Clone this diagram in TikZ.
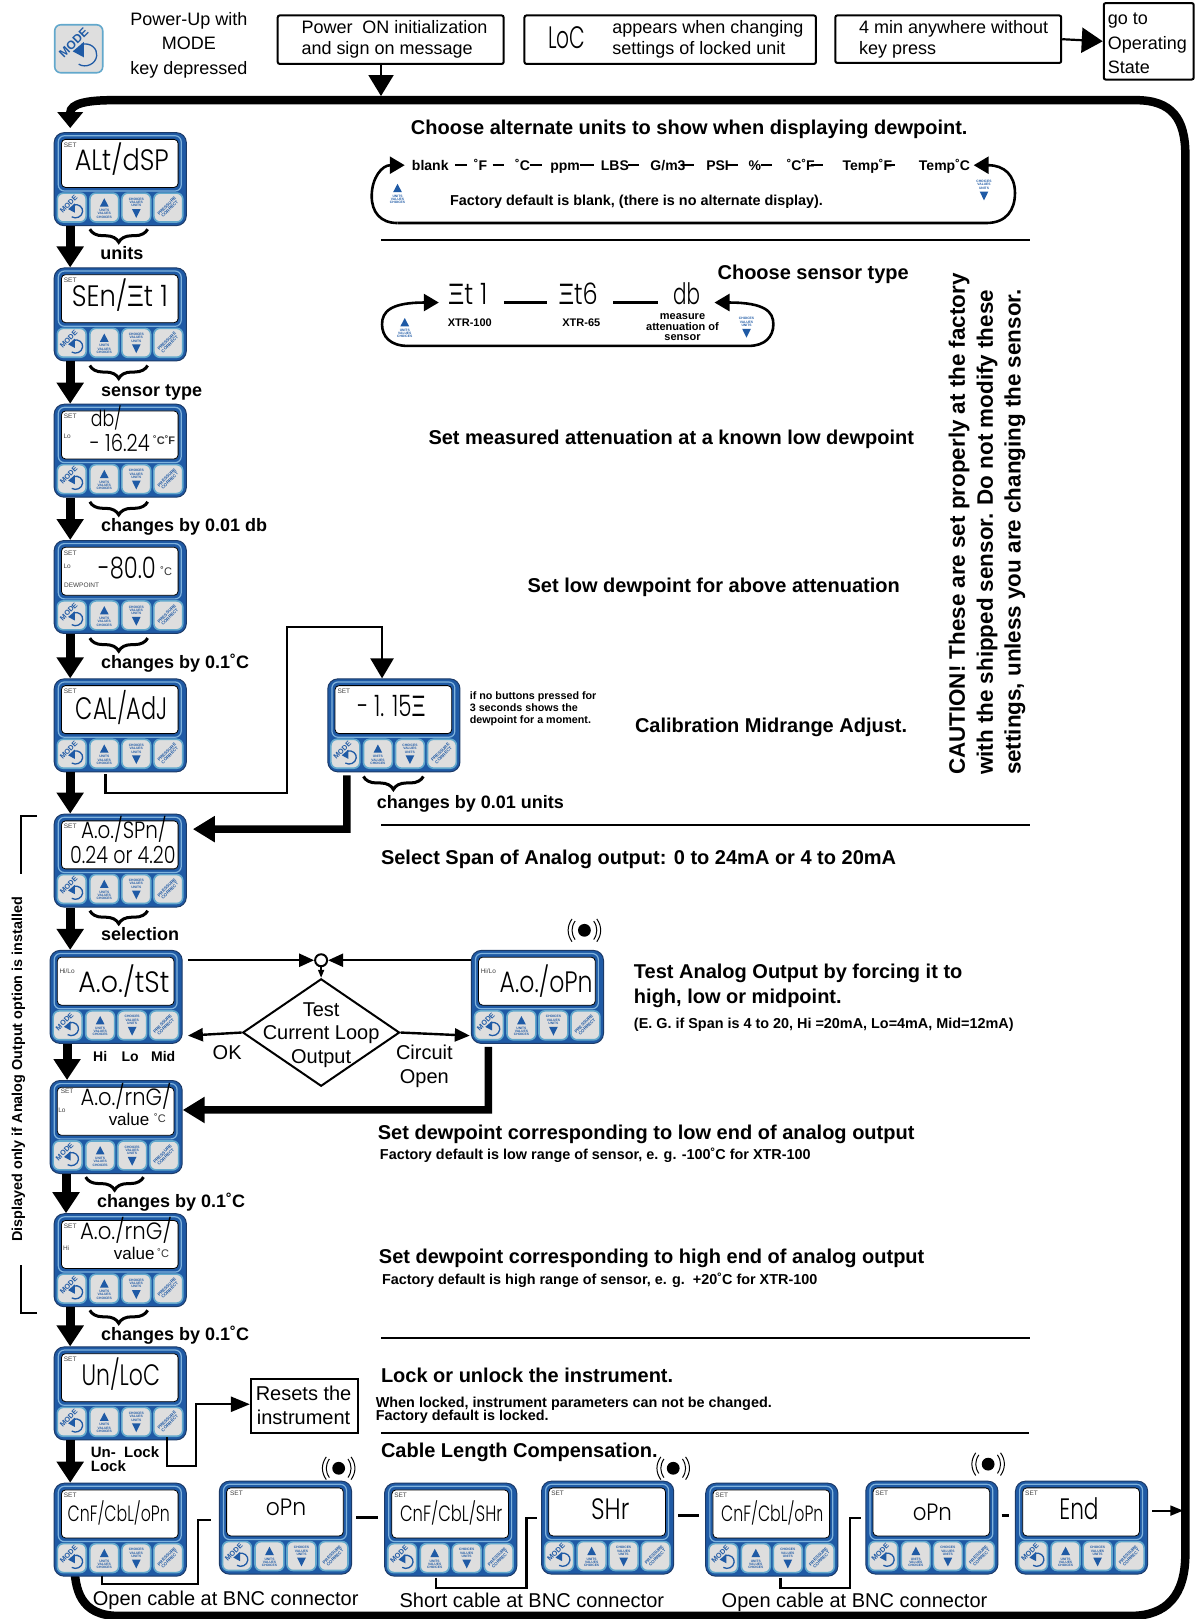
\documentclass[tikz,border=0pt]{standalone}
\usepackage{fontspec}
\usepackage{graphicx}
\setmainfont{Liberation Sans}
\newfontfamily\lcdf{Poppins Light}
\newfontfamily\lcdg{Liberation Sans}
\usetikzlibrary{arrows.meta,decorations.pathreplacing,calc,shapes.geometric}
\definecolor{pblue}{HTML}{1F5AA5}
\definecolor{pdark}{HTML}{1B3A68}
\definecolor{bfill}{HTML}{DEDEDE}
\definecolor{bring}{HTML}{62A8CC}
\definecolor{lring}{HTML}{7FB2DC}
\newcount\tn
\newcommand\fs[1]{\fontsize{#1}{#1}\selectfont}
\newcommand\T[4][]{\global\advance\tn by 1\relax\node[txt,#1] (t\the\tn) at (#2,#3+4.5) {#4};}
\newcommand\xseg{{\lcdg Ξ}}
\newcommand\lcd[5]{\pgfmathsetlengthmacro\lw{#1*1.0328}\pgfmathsetlengthmacro\lh{#2*1.0328}%
 \global\advance\tn by 1\relax
 \node[inner sep=0,black] (t\the\tn) at (#3,#4) {\resizebox{\lw}{\lh}{\lcdf\smash{#5}\rule{0pt}{.7em}}};}
\tikzset{
 txt/.style={inner sep=0,outer sep=0,text height=.72em,text depth=.2em},
 tt/.style={font=\bfseries\fs{20},anchor=west},
 ts/.style={font=\bfseries\fs{14.4},anchor=west},
 tl/.style={font=\bfseries\fs{18},anchor=west},
 tp/.style={font=\fs{18},anchor=center},
 td/.style={font=\fs{20},anchor=center},
 tb/.style={font=\fs{20},anchor=west},
 opt/.style={font=\bfseries\fs{14},anchor=west},
 panelbox/.style={draw=pdark,fill=pblue,line width=1pt,rounded corners=10pt,minimum width=132.2pt,minimum height=93pt,inner sep=0,anchor=north west},
 lring/.style={draw=lring,line width=1.2pt,rounded corners=6pt},
 lbox/.style={draw=black,fill=white,line width=.8pt,rounded corners=4pt},
 btn/.style={draw=bring,fill=bfill,line width=1.6pt,rounded corners=6pt},
 bluetxt/.style={inner sep=0,text=pblue,font=\bfseries\fs{3.6},align=center},
 bigarrow/.style={line width=9pt,-{Triangle[length=21pt,width=26pt]}},
 midarrow/.style={line width=7.5pt,-{Triangle[length=22pt,width=25pt]}},
 smallarrow/.style={line width=2.4pt,-{Triangle[length=15pt,width=13pt]}},
 plain/.style={line width=2.4pt},
 msgbox/.style={draw=black,line width=2pt,rounded corners=2pt,anchor=north west,inner sep=0},
 bracepath/.style={line width=3pt,decorate,decoration={brace,mirror,amplitude=13pt,aspect=.5}},
 rule/.style={line width=2pt},
 setl/.style={font=\fs{6.5},text=black!75,anchor=center,yshift=4.65pt},
 dsh/.style={line width=2pt},
}
% one MODE key, origin top left, 28 wide and high
\newcommand\modekey{%
 \draw[btn] (0,0) rectangle (28,28);
 \global\advance\tn by 1\relax
 \node[inner sep=0,text=pblue,font=\bfseries\fs{7.2},rotate=45] (t\the\tn) at (11,10.5) {MODE};
 \draw[pblue,line width=1.3pt] (15.5,11.5) .. controls (21,10) and (25,14) .. (24.5,18) .. controls (24,23) and (18,25.5) .. (14,23);
 \fill[pblue] (17,10) -- (17,19) -- (10.5,15.5) -- cycle;
}
\newcommand\upmark[1]{%
 \fill[pblue] (#1-4.2,13) -- (#1+4.2,13) -- (#1,5) -- cycle;
 \global\advance\tn by 1\relax
 \node[bluetxt,scale=.92] (t\the\tn) at (#1,20) {UNITS\\VALUES\\CHOICES};}
\newcommand\downmark[1]{%
 \global\advance\tn by 1\relax
 \node[bluetxt,scale=.92] (t\the\tn) at (#1,9) {CHOICES\\VALUES\\UNITS};
 \fill[pblue] (#1-4.2,15.5) -- (#1+4.2,15.5) -- (#1,24) -- cycle;}
\newcommand\panel[3]{%
 \node[panelbox] (#1) at (#2,#3) {};
 \begin{scope}[shift={(#2,#3)}]
  \draw[lring] (4.5,3.5) rectangle (123.5,57);
  \draw[lbox] (7.5,7) rectangle (120.5,53.5);
  \begin{scope}[shift={(3.5,59)}]\modekey\end{scope}
  \begin{scope}[shift={(35,59)}]\draw[btn] (0,0) rectangle (28,28);\upmark{14}\end{scope}
  \begin{scope}[shift={(66,59)}]\draw[btn] (0,0) rectangle (28,28);\downmark{14}\end{scope}
  \begin{scope}[shift={(97,59)}]\draw[btn] (0,0) rectangle (28,28);
   \global\advance\tn by 1\relax
   \node[bluetxt,rotate=45,font=\bfseries\fs{4.4}] (t\the\tn) at (14,14) {PRESSURE\\CORRECT};\end{scope}
 \end{scope}}
\newcommand\beep[2]{%
 \fill (#1,#2) circle (6.2);
 \draw[line width=1pt] (#1-9,#2-9) .. controls (#1-13,#2-3) and (#1-13,#2+3) .. (#1-9,#2+9);
 \draw[line width=1pt] (#1-12,#2-11) .. controls (#1-17,#2-4) and (#1-17,#2+4) .. (#1-12,#2+11);
 \draw[line width=1pt] (#1+9,#2-9) .. controls (#1+13,#2-3) and (#1+13,#2+3) .. (#1+9,#2+9);
 \draw[line width=1pt] (#1+12,#2-11) .. controls (#1+17,#2-4) and (#1+17,#2+4) .. (#1+12,#2+11);}
\begin{document}
\begin{tikzpicture}[x=1.0328pt,y=-1.0328pt]
\useasboundingbox (0,0) rectangle (1158,1568);
\fill[white] (0,0) rectangle (1158,1568);

% --- top row
\begin{scope}[shift={(53,24)},scale=1.66,transform shape]\modekey\end{scope}
\T[tp]{183}{18}{Power-Up with}
\T[tp]{183}{41}{MODE}
\T[tp]{183}{65}{key depressed}
\node[msgbox,minimum width=226pt,minimum height=48.5pt] (b1) at (268,14) {};
\T[tp,anchor=west]{292}{25}{Power\ \ ON initialization}
\T[tp,anchor=west]{292}{46}{and sign on message}
\node[msgbox,minimum width=291.5pt,minimum height=48.5pt] (b2) at (507,14) {};
\lcd{36}{21}{549}{36}{LoC}
\T[tp,anchor=west]{593}{25}{appears when changing}
\T[tp,anchor=west]{593}{46}{settings of locked unit}
\node[msgbox,minimum width=226pt,minimum height=47.5pt] (b3) at (808,14) {};
\T[tp,anchor=west]{832}{25}{4 min anywhere without}
\T[tp,anchor=west]{832}{46}{key press}
\node[msgbox,minimum width=90pt,minimum height=76.5pt] (b4) at (1068,2) {};
\T[tp,anchor=west]{1073}{17}{go to}
\T[tp,anchor=west]{1073}{41}{Operating}
\T[tp,anchor=west]{1073}{64}{State}
\draw[line width=2.2pt,-{Triangle[length=21pt,width=25pt]}] (b3.east) -- (b4.west);
\coordinate (topin) at (369,93);
\draw[line width=2pt,-{Triangle[length=21pt,width=25pt]}] (b1.south -| topin) -- (topin);

% --- big return loop
\coordinate (loopstart) at (72,1512);
\coordinate (loopend) at (68,124);
\draw[line width=8.5pt,-{Triangle[length=16pt,width=25pt]}] (loopstart) .. controls (72,1540) and (78,1565) .. (115,1565) -- (1095,1565) .. controls (1130,1565) and (1148,1545) .. (1148,1505) -- (1148,150) .. controls (1148,115) and (1135,97) .. (1100,97) -- (110,97) .. controls (85,97) and (68,100) .. (loopend);

% --- panels
\panel{p1}{52}{128}
\panel{p2}{52}{259}
\panel{p3}{52}{391}
\panel{p4}{52}{523}
\panel{p5}{52}{657}
\panel{p6}{317}{657}
\panel{p7}{52}{788}
\panel{p8}{48}{920}
\panel{p9}{456}{920}
\panel{p10}{48}{1046}
\panel{p11}{52}{1175}
\panel{p12}{52}{1304}
\panel{p13}{52}{1436}
\panel{p14}{212}{1434}
\panel{p15}{372}{1436}
\panel{p16}{524}{1434}
\panel{p17}{683}{1436}
\panel{p18}{838}{1434}
\panel{p19}{983}{1434}

% --- panel texts
\T[setl]{68}{140}{SET}\lcd{91}{20}{118}{155}{ALt/dSP}
\T[setl]{68}{271}{SET}\lcd{93}{20}{116}{287}{SEn/\xseg t 1}
\T[setl]{68}{403}{SET}\lcd{30}{15}{103}{406}{db/}\lcd{58}{16}{116}{429}{- 16.24}
\T[setl,font=\bfseries\fs{11},text=black!80]{159}{428}{˚C˚F}\T[setl]{65}{422}{Lo}
\T[setl]{68}{535}{SET}\lcd{56}{20}{123}{550}{-80.0}\T[setl,font=\fs{11},text=black!80]{161}{555}{˚C}\T[setl]{65}{548}{Lo}\T[setl]{79}{566}{DEWPOINT}
\T[setl]{68}{669}{SET}\lcd{89}{21}{118}{686}{CAL/AdJ}
\T[setl]{333}{669}{SET}\lcd{66}{20}{379}{684}{- 1. 15\xseg}
\T[setl]{68}{800}{SET}\lcd{83}{16}{120}{804}{A.o./SPn/}\lcd{102}{16}{119}{828}{0.24 or 4.20}
\T[setl]{65}{940}{Hi/Lo}\lcd{88}{20}{120}{951}{A.o./tSt}
\T[setl]{473}{940}{Hi/Lo}\lcd{90}{20}{529}{951}{A.o./oPn}
\T[setl]{65}{1057}{SET}\T[setl]{60}{1075}{Lo}\lcd{88}{16}{122}{1063}{A.o./rnG/}
\T[font=\fs{17}]{125}{1083}{value}\T[setl,font=\fs{11},text=black!80]{155}{1085}{˚C}
\T[setl]{68}{1187}{SET}\T[setl]{64}{1209}{Hi}\lcd{89}{16}{122}{1192}{A.o./rnG/}
\T[font=\fs{17}]{130}{1213}{value}\T[setl,font=\fs{11},text=black!80]{158}{1215}{˚C}
\T[setl]{68}{1316}{SET}\lcd{76}{20}{117}{1332}{Un/LoC}
\T[setl]{68}{1448}{SET}\lcd{99}{15}{115}{1466}{CnF/CbL/oPn}
\T[setl]{229}{1446}{SET}\lcd{39}{16}{277}{1460}{oPn}
\T[setl]{388}{1448}{SET}\lcd{99}{15}{437}{1466}{CnF/CbL/SHr}
\T[setl]{540}{1446}{SET}\lcd{37}{20}{591}{1462}{SHr}
\T[setl]{699}{1448}{SET}\lcd{99}{15}{748}{1466}{CnF/CbL/oPn}
\T[setl]{854}{1446}{SET}\lcd{38}{16}{903}{1465}{oPn}
\T[setl]{999}{1446}{SET}\lcd{38}{20}{1045}{1462}{End}

% --- vertical flow arrows
\draw[bigarrow] ([xshift=16.5pt]p1.south west) -- ([xshift=16.5pt]p2.north west);
\draw[bigarrow] ([xshift=16.5pt]p2.south west) -- ([xshift=16.5pt]p3.north west);
\draw[bigarrow] ([xshift=16.5pt]p3.south west) -- ([xshift=16.5pt]p4.north west);
\draw[bigarrow] ([xshift=16.5pt]p4.south west) -- ([xshift=16.5pt]p5.north west);
\draw[bigarrow] ([xshift=16.5pt]p5.south west) -- ([xshift=16.5pt]p7.north west);
\draw[bigarrow] ([xshift=16.5pt]p7.south west) coordinate (c78) -- (c78 |- p8.north);
\draw[bigarrow] ([xshift=17.5pt]p8.south west) -- ([xshift=17.5pt]p10.north west);
\draw[bigarrow] ([xshift=16.5pt]p10.south west) coordinate (c1011) -- (c1011 |- p11.north);
\draw[bigarrow] ([xshift=16.5pt]p11.south west) -- ([xshift=16.5pt]p12.north west);
\draw[bigarrow] ([xshift=16.5pt]p12.south west) -- ([xshift=16.5pt]p13.north west);

% --- braces
\draw[bracepath] (87,222) -- (143,222);
\T[tl,anchor=center]{118}{244}{units}
\draw[bracepath] (87,354) -- (143,354);
\T[tl]{98}{377}{sensor type}
\draw[bracepath] (87,486) -- (143,486);
\T[tl]{98}{508}{changes by 0.01 db}
\draw[bracepath] (87,618) -- (143,618);
\T[tl]{98}{640}{changes by 0.1˚C}
\draw[bracepath] (352,752) -- (410,752);
\T[tl]{365}{776}{changes by 0.01 units}
\draw[bracepath] (87,882) -- (143,882);
\T[tl]{98}{904}{selection}
\draw[bracepath] (83,1140) -- (139,1140);
\T[tl]{94}{1162}{changes by 0.1˚C}
\draw[bracepath] (87,1269) -- (143,1269);
\T[tl]{98}{1291}{changes by 0.1˚C}

% --- midrange branch
\coordinate (mid0) at (102,750);
\coordinate (mid1) at (102,768);
\coordinate (mid2) at (278,768);
\coordinate (mid3) at (278,607);
\coordinate (mid4) at (370,607);
\draw[plain,-{Triangle[length=20pt,width=23pt]}] (mid0) -- (mid1) -- (mid2) -- (mid3) -- (mid4) -- (mid4 |- p6.north);
\coordinate (back1) at (336,803);
\draw[midarrow,shorten >=6pt] ([xshift=19.6pt,yshift=-3pt]p6.south west) -- (back1) -- (back1 -| p7.east);
\T[font=\bfseries\fs{10.75},anchor=west]{455}{670}{if no buttons pressed for}
\T[font=\bfseries\fs{10.75},anchor=west]{455}{682}{3 seconds shows the}
\T[font=\bfseries\fs{10.75},anchor=west]{455}{694}{dewpoint for a moment.}
\T[tt]{615}{702}{Calibration Midrange Adjust.}

% --- section texts
\T[tt]{398}{123}{Choose alternate units to show when displaying dewpoint.}
\coordinate (l1a) at (392,160);
\coordinate (l1b) at (943,160);
\draw[line width=2.6pt,-{Triangle[length=15pt,width=17pt]},rounded corners=0pt] (385,216) -- (955,216) .. controls (975,216) and (983,203) .. (983,187) .. controls (983,170) and (973,160) .. (l1b);
\draw[line width=2.6pt,-{Triangle[length=15pt,width=17pt]}] (385,216) .. controls (368,216) and (360,205) .. (360,190) .. controls (360,172) and (370,160) .. (l1a);
\begin{scope}[shift={(371,173)}]\upmark{14}\end{scope}
\begin{scope}[shift={(939,170)}]\downmark{14}\end{scope}
\T[opt]{399}{158}{blank}
\T[opt]{459}{158}{˚F}
\T[opt]{499}{158}{˚C}
\T[opt]{533}{158}{ppm}
\T[opt]{582}{158}{LBS}
\T[opt]{630}{158}{G/m3}
\T[opt]{684}{158}{PSI}
\T[opt]{725}{158}{\%}
\T[opt]{762}{158}{˚C˚F}
\T[opt]{816}{158}{Temp˚F}
\T[opt]{890}{158}{Temp˚C}
\coordinate (d1a) at (441,160);\coordinate (d1b) at (452,160);\draw[dsh] (d1a) -- (d1b);
\coordinate (d2a) at (477,160);\coordinate (d2b) at (488,160);\draw[dsh] (d2a) -- (d2b);
\coordinate (d3a) at (513,160);\coordinate (d3b) at (525,160);\draw[dsh] (d3a) -- (d3b);
\coordinate (d4a) at (562,160);\coordinate (d4b) at (575,160);\draw[dsh] (d4a) -- (d4b);
\coordinate (d5a) at (608,160);\coordinate (d5b) at (619,160);\draw[dsh] (d5a) -- (d5b);
\coordinate (d6a) at (660,160);\coordinate (d6b) at (672,160);\draw[dsh] (d6a) -- (d6b);
\coordinate (d7a) at (703,160);\coordinate (d7b) at (715,160);\draw[dsh] (d7a) -- (d7b);
\coordinate (d8a) at (737,160);\coordinate (d8b) at (748,160);\draw[dsh] (d8a) -- (d8b);
\coordinate (d9a) at (785,160);\coordinate (d9b) at (797,160);\draw[dsh] (d9a) -- (d9b);
\coordinate (d10a) at (857,160);\coordinate (d10b) at (867,160);\draw[dsh] (d10a) -- (d10b);
\T[ts]{436}{192}{Factory default is blank, (there is no alternate display).}
\coordinate (r1a) at (369,232);\coordinate (r1b) at (998,232);\draw[rule] (r1a) -- (r1b);

\T[tt]{695}{264}{Choose sensor type}
\coordinate (l2a) at (425,293);
\coordinate (l2b) at (692,293);
\draw[line width=2.6pt,-{Triangle[length=15pt,width=17pt]}] (395,335) -- (725,335) .. controls (741,335) and (749,326) .. (749,314) .. controls (749,302) and (741,293) .. (l2b);
\draw[line width=2.6pt,-{Triangle[length=15pt,width=17pt]}] (395,335) .. controls (378,335) and (370,326) .. (370,314) .. controls (370,302) and (378,293) .. (l2a);
\begin{scope}[shift={(378,303)}]\upmark{14}\end{scope}
\begin{scope}[shift={(709,303)}]\downmark{14}\end{scope}
\lcd{38}{20}{453}{285}{\xseg t 1}
\lcd{38}{20}{560}{285}{\xseg t6}
\lcd{26}{20}{665}{285}{db}
\coordinate (d11a) at (488,293);\coordinate (d11b) at (530,293);\draw[line width=2.4pt] (d11a) -- (d11b);
\coordinate (d12a) at (594,293);\coordinate (d12b) at (637,293);\draw[line width=2.4pt] (d12a) -- (d12b);
\T[font=\bfseries\fs{11},anchor=center]{455}{309}{XTR-100}
\T[font=\bfseries\fs{11},anchor=center]{563}{309}{XTR-65}
\T[font=\bfseries\fs{11},anchor=center]{661}{302}{measure}
\T[font=\bfseries\fs{11},anchor=center]{661}{313}{attenuation of}
\T[font=\bfseries\fs{11},anchor=center]{661}{323}{sensor}

\T[tt]{415}{423}{Set measured attenuation at a known low dewpoint}
\T[tt]{511}{567}{Set low dewpoint for above attenuation}
\coordinate (r2a) at (369,799);\coordinate (r2b) at (998,799);\draw[rule] (r2a) -- (r2b);
\T[tt]{369}{830}{Select Span of Analog output: 0 to 24mA or 4 to 20mA}

% caution
\T[font=\bfseries\fs{22.4},rotate=90,anchor=west]{932}{746}{CAUTION! These are set properly at the factory}
\T[font=\bfseries\fs{22.4},rotate=90,anchor=west]{959}{746}{with the shipped sensor. Do not modify these}
\T[font=\bfseries\fs{22.4},rotate=90,anchor=west]{986}{746}{settings, unless you are changing the sensor.}

% side bracket
\T[font=\bfseries\fs{14.4},rotate=90,anchor=west]{19}{1198}{Displayed only if Analog Output option is installed}
\coordinate (sb1) at (36,790);\coordinate (sb2) at (20,790);\coordinate (sb3) at (20,846);
\draw[line width=1.8pt] (sb1) -- (sb2) -- (sb3);
\coordinate (sb4) at (36,1272);\coordinate (sb5) at (20,1272);\coordinate (sb6) at (20,1225);
\draw[line width=1.8pt] (sb4) -- (sb5) -- (sb6);

% test loop
\node[draw,line width=2pt,circle,minimum size=12pt,inner sep=0] (jn) at (311,930) {};
\node[draw,line width=2pt,diamond,minimum width=157pt,minimum height=107.5pt,inner sep=0,align=center] (dm) at (311,1000) {};
\T[td]{311}{977}{Test}
\T[td]{311}{1000}{Current Loop}
\T[td]{311}{1023}{Output}
\draw[smallarrow] (182,930) -- (jn.west);
\draw[smallarrow] (p9.west |- jn) -- (jn.east);
\draw[line width=1.6pt,-{Triangle[length=8pt,width=6pt]}] (jn.south) -- (dm.north);
\coordinate (dmL) at (182,1003);\coordinate (dmR) at (455,1003);
\draw[smallarrow] (dm.west) -- (dmL);
\draw[smallarrow] (dm.east) -- (dmR);
\T[td]{220}{1019}{OK}
\T[td]{411}{1019}{Circuit}
\T[td]{411}{1042}{Open}
\T[font=\bfseries\fs{14},anchor=center]{97}{1021}{Hi}
\T[font=\bfseries\fs{14},anchor=center]{126}{1021}{Lo}
\T[font=\bfseries\fs{14},anchor=center]{158}{1021}{Mid}
\coordinate (ob) at (473,1075);
\draw[midarrow] ([xshift=17.5pt,yshift=-3pt]p9.south west) -- (ob) -- (ob -| p10.east);
\beep{566}{901}
\T[tt]{614}{941}{Test Analog Output by forcing it to}
\T[tt]{614}{965}{high, low or midpoint.}
\T[ts]{614}{989}{(E. G. if Span is 4 to 20, Hi =20mA, Lo=4mA, Mid=12mA)}
\T[tt]{366}{1097}{Set dewpoint corresponding to low end of analog output}
\T[ts]{368}{1116}{Factory default is low range of sensor, e. g. -100˚C for XTR-100}
\T[tt]{367}{1217}{Set dewpoint corresponding to high end of analog output}
\T[ts]{370}{1237}{Factory default is high range of sensor, e. g.\ \ +20˚C for XTR-100}
\coordinate (r3a) at (369,1296);\coordinate (r3b) at (998,1296);\draw[rule] (r3a) -- (r3b);
\T[tt]{369}{1332}{Lock or unlock the instrument.}
\T[ts]{364}{1356}{When locked, instrument parameters can not be changed.}
\T[ts]{364}{1369}{Factory default is locked.}
\coordinate (r4a) at (369,1388);\coordinate (r4b) at (997,1388);\draw[rule] (r4a) -- (r4b);
\T[tt]{369}{1405}{Cable Length Compensation.}

% resets
\node[draw,line width=1.8pt,anchor=north west,minimum width=107.5pt,minimum height=53.5pt,inner sep=0] (rs) at (242,1335) {};
\T[td]{294}{1349}{Resets the}
\T[td]{294}{1373}{instrument}
\coordinate (rs1) at (162,1392);\coordinate (rs2) at (162,1420);\coordinate (rs3) at (190,1420);\coordinate (rs4) at (190,1360);
\draw[plain,-{Triangle[length=19pt,width=15pt]}] (rs1) -- (rs2) -- (rs3) -- (rs4) -- (rs.west |- rs4);
\T[font=\bfseries\fs{15},anchor=west]{88}{1405}{Un-\ \ Lock}
\T[font=\bfseries\fs{15},anchor=west]{88}{1418}{Lock}

% cable row
\coordinate (c1a) at (99,1526);\coordinate (c1b) at (99,1534);\coordinate (c1c) at (192,1534);\coordinate (c1d) at (192,1472);\coordinate (c1e) at (204,1472);
\draw[plain] (c1a) -- (c1b) -- (c1c) -- (c1d) -- (c1e);
\coordinate (c2a) at (345,1470);\coordinate (c2b) at (366,1470);\draw[line width=2.8pt] (c2a) -- (c2b);
\coordinate (c3a) at (422,1528);\coordinate (c3b) at (422,1538);\coordinate (c3c) at (510,1538);\coordinate (c3d) at (510,1470);\coordinate (c3e) at (520,1470);
\draw[plain] (c3a) -- (c3b) -- (c3c) -- (c3d) -- (c3e);
\coordinate (c4a) at (657,1468);\coordinate (c4b) at (677,1468);\draw[line width=2.8pt] (c4a) -- (c4b);
\coordinate (c5a) at (756,1528);\coordinate (c5b) at (756,1538);\coordinate (c5c) at (823,1538);\coordinate (c5d) at (823,1470);\coordinate (c5e) at (834,1470);
\draw[plain] (c5a) -- (c5b) -- (c5c) -- (c5d) -- (c5e);
\coordinate (c6a) at (970,1468);\coordinate (c6b) at (977,1468);\draw[line width=2.8pt] (c6a) -- (c6b);
\coordinate (c7a) at (1116,1463);\coordinate (c7b) at (1146,1463);
\draw[line width=2pt,-{Triangle[length=13pt,width=10pt]}] (c7a) -- (c7b);
\beep{328}{1422}
\beep{652}{1422}
\beep{957}{1418}
\T[tb]{90}{1548}{Open cable at BNC connector}
\T[tb]{387}{1550}{Short cable at BNC connector}
\T[tb]{699}{1550}{Open cable at BNC connector}
\end{tikzpicture}
\end{document}
